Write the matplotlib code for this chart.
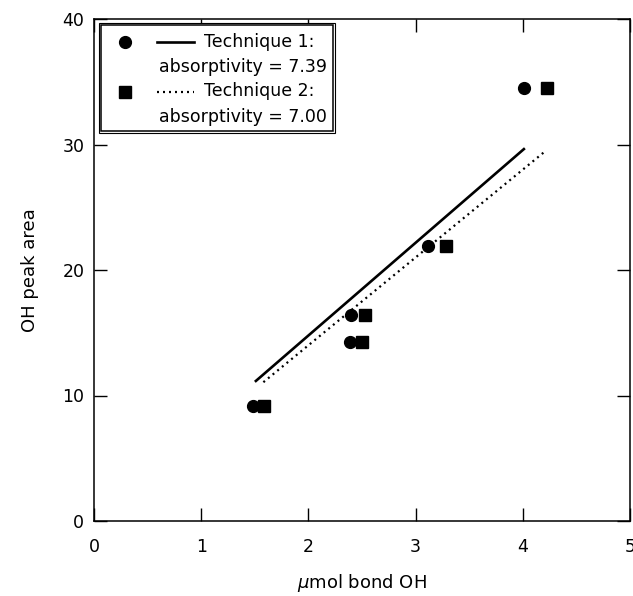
import matplotlib
matplotlib.use("Agg")
import matplotlib.pyplot as plt
from matplotlib.patches import Rectangle
import numpy as np

# ---- data ----
tech1_x = [1.48, 2.39, 2.40, 3.12, 4.01]
tech1_y = [9.2, 14.3, 16.4, 21.9, 34.5]
tech2_x = [1.59, 2.50, 2.53, 3.28, 4.23]
tech2_y = [9.2, 14.3, 16.4, 21.9, 34.5]
absorptivity1 = 7.39
absorptivity2 = 7.00
fit1_x = [1.51, 4.01]
fit2_x = [1.58, 4.21]
x_ticks = [0, 1, 2, 3, 4, 5]
y_ticks = [0, 10, 20, 30, 40]
labels = ["Technique 1:\nabsorptivity = 7.39", "Technique 2:\nabsorptivity = 7.00"]

plt.rcParams['font.family'] = ['DejaVu Sans']
fig = plt.figure(figsize=(6.33, 5.96), dpi=100)
ax = fig.add_axes([94/633, 75/596, 536/633, 502/596])

ax.plot(tech1_x, tech1_y, 'o', color='black', ms=8.5, zorder=3)
ax.plot(tech2_x, tech2_y, 's', color='black', ms=8.5, zorder=3)
ax.plot(fit1_x, absorptivity1*np.array(fit1_x), '-', color='black', lw=1.9)
ax.plot(fit2_x, absorptivity2*np.array(fit2_x), color='black', lw=1.6, linestyle=(0, (0.9, 1.8)))

ax.set_xlim(0, 5)
ax.set_ylim(0, 40)
ax.set_xticks(x_ticks)
ax.set_yticks(y_ticks)
ax.tick_params(direction='in', length=9.5, width=1.0, labelsize=12.5,
               top=True, right=True)
ax.tick_params(axis='x', pad=12)
ax.tick_params(axis='y', pad=7)
for s in ax.spines.values():
    s.set_linewidth(1.1)
ax.set_xlabel(r'$\mu$mol bond OH', fontsize=13, labelpad=12)
ax.set_ylabel('OH peak area', fontsize=13, labelpad=17)

# ---- manual legend (axes coords) ----
T = ax.transAxes
def fx(px):
    return (px - 94) / 536
def fy(py):
    return (521 - py) / 502

ax.add_patch(Rectangle((fx(99), fy(133)), fx(335)-fx(99), fy(23)-fy(133),
                       transform=T, fill=True, facecolor='white', edgecolor='black', lw=0.8, zorder=4))
ax.add_patch(Rectangle((fx(101.5), fy(130.5)), fx(332.5)-fx(101.5), fy(25.5)-fy(130.5),
                       transform=T, fill=False, edgecolor='black', lw=1.1, zorder=4))
ax.plot([fx(125)], [fy(42)], 'o', color='black', ms=8.5, transform=T, zorder=5, clip_on=False)
ax.plot([fx(157), fx(194)], [fy(42), fy(42)], '-', color='black', lw=1.9, transform=T, zorder=5)
ax.plot([fx(125)], [fy(91.5)], 's', color='black', ms=8.5, transform=T, zorder=5, clip_on=False)
ax.plot([fx(157), fx(194)], [fy(91.5), fy(91.5)], color='black', lw=1.6,
        linestyle=(0, (0.9, 1.8)), transform=T, zorder=5)
for lab, ytop in zip(labels, [42, 91.5]):
    l1, l2 = lab.split("\n")
    ax.text(fx(204), fy(ytop), l1, transform=T, fontsize=12.5, va='center', ha='left', zorder=5)
    ax.text(fx(159), fy(ytop + 25.5), l2, transform=T, fontsize=12.5, va='center', ha='left', zorder=5)

fig.savefig('out.png', dpi=100)
